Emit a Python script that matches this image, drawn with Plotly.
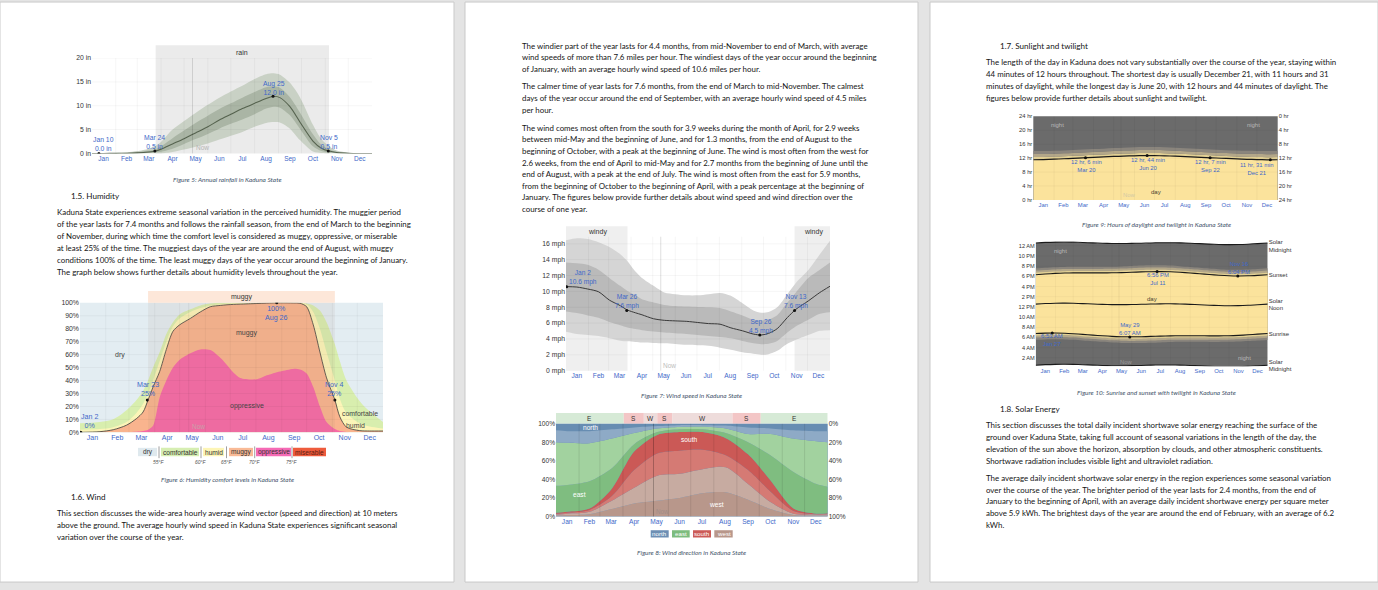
import plotly.graph_objects as go

W, H = 1378, 590
BODY = "Lato"
CH = "Liberation Sans"
BLUE = "#3e68c9"
TXT = "#333333"

MONTHS = ["Jan", "Feb", "Mar", "Apr", "May", "Jun", "Jul", "Aug", "Sep", "Oct", "Nov", "Dec"]
MONTH_MID = [15, 45, 74, 105, 135, 166, 196, 227, 258, 288, 319, 349]
MONTH_START = [31, 59, 90, 120, 151, 181, 212, 243, 273, 304, 334]
NOW_DAY = 131

# ---------------- Figure 5: rainfall (31-day sliding, inches) ----------------
RAIN_DAY = [0, 15, 31, 46, 59, 74, 83, 90, 105, 120, 135, 151, 166, 181, 196, 212, 227, 237, 245, 258, 271, 288, 299, 309, 319, 334, 349, 365]
RAIN_MEAN = [0, 0, 0.02, 0.05, 0.12, 0.3, 0.5, 0.9, 2.0, 3.1, 4.3, 5.6, 7.0, 8.2, 9.4, 10.5, 11.5, 12.0, 11.7, 9.8, 6.6, 2.6, 1.1, 0.5, 0.2, 0.05, 0, 0]
RAIN_P90 = [0, 0, 0.1, 0.25, 0.5, 1.0, 1.6, 2.4, 5.0, 6.8, 8.5, 10.2, 11.7, 13.0, 14.2, 15.6, 16.6, 16.8, 16.5, 14.8, 11.8, 6.0, 3.0, 1.5, 0.6, 0.15, 0, 0]
RAIN_P75 = [0, 0, 0.05, 0.1, 0.3, 0.6, 0.9, 1.5, 3.2, 4.8, 6.4, 7.9, 9.3, 10.5, 11.7, 12.9, 13.9, 14.1, 13.8, 11.8, 8.6, 4.0, 1.8, 0.9, 0.35, 0.1, 0, 0]
RAIN_P25 = [0, 0, 0, 0, 0.02, 0.1, 0.2, 0.35, 1.0, 2.0, 3.0, 4.1, 5.2, 6.2, 7.1, 8.2, 9.4, 9.8, 9.6, 8.0, 5.2, 1.5, 0.5, 0.2, 0.05, 0, 0, 0]
RAIN_P10 = [0, 0, 0, 0, 0, 0, 0, 0, 0.3, 0.8, 1.4, 2.1, 2.9, 3.7, 4.5, 5.6, 6.4, 6.6, 6.5, 5.2, 2.8, 0.4, 0.1, 0, 0, 0, 0, 0]
RAIN_MARK_DAY = [9, 82, 236, 308]
RAIN_MARK_VAL = [0.0, 0.5, 12.0, 0.5]
RAIN_MARK_TEXT = ["Jan 10<br>0.0 in", "Mar 24<br>0.5 in", "Aug 25<br>12.0 in", "Nov 5<br>0.5 in"]
RAIN_MARK_LABEL_POS = [(15.6, 1.96), (82, 2.47), (237, 13.8), (309, 2.47)]
RAIN_TICKS = [0, 5, 10, 15, 20]
RAIN_SEASON = [83, 309]

# ---------------- Figure 6: humidity comfort levels (cumulative %) ----------------
HUM_DAY = [0, 24, 40, 56, 68, 76, 82, 88, 96, 104, 112, 120, 133, 145, 157, 169, 177, 185, 193, 213, 225, 241, 257, 265, 273, 281, 289, 297, 307, 313, 321, 337, 349, 365]
HUM_OPPRESSIVE = [0, 0, 0, 0.2, 0.5, 1, 2, 5, 27, 40, 50, 56, 61, 64, 63.5, 57.5, 52, 46, 42, 41, 44, 47, 49, 48.5, 45.5, 35, 20, 8, 2.5, 1, 0.3, 0, 0, 0]
HUM_MUGGY = [0, 0.5, 2, 5.5, 10.6, 15.7, 25, 35, 47, 64, 78, 83, 88, 93, 97, 98, 98.5, 98.8, 99, 99.5, 99.8, 100, 99.9, 99.7, 97, 83, 62, 42, 25, 12, 4, 1.3, 1, 1]
HUM_HUMID = [2, 2.5, 4, 8, 15, 22, 30, 40, 55, 70, 82, 88, 93, 96, 98, 99, 99.3, 99.5, 99.6, 99.8, 99.9, 100, 100, 99.8, 99, 93, 80, 62, 40, 26, 15, 7, 4.5, 3]
HUM_COMFORTABLE = [7, 8, 10, 17, 25, 32, 40, 50, 62, 76, 85, 91, 95, 98, 99.5, 100, 100, 100, 100, 100, 100, 100, 100, 100, 99.5, 98, 94, 85, 68, 55, 40, 24, 16, 8]
HUM_MARK_DAY = [1, 81, 237, 307]
HUM_MARK_VAL = [0, 25, 100, 25]
HUM_MARK_TEXT = ["Jan 2<br>0%", "Mar 23<br>25%", "100%<br>Aug 26", "Nov 4<br>25%"]
HUM_MARK_LABEL_POS = [(12, 8.5), (82, 32.8), (237, 91.8), (307, 32.8)]
HUM_TICKS = [0, 10, 20, 30, 40, 50, 60, 70, 80, 90, 100]
MUGGY_SEASON = [82, 307]
HUM_LEGEND_LABELS = ["dry", "comfortable", "humid", "muggy", "oppressive", "miserable"]
HUM_LEGEND_COLORS = ["#dfe9ee", "#d6eeb2", "#fdf5b6", "#f9ba96", "#f56ab5", "#ee5b3c"]
DEW_LABELS = ["55°F", "60°F", "65°F", "70°F", "75°F"]

# ---------------- Figure 7: wind speed (mph) ----------------
WIND_DAY = [0, 15, 30, 45, 60, 75, 85, 96, 105, 121, 136, 151, 167, 182, 197, 213, 228, 244, 259, 270, 280, 292, 306, 318, 335, 351, 365]
WIND_MEAN = [10.6, 10.55, 10.3, 9.95, 8.9, 8.2, 7.65, 7.3, 7.05, 6.55, 6.35, 6.28, 6.22, 6.08, 5.94, 5.86, 5.4, 5.03, 4.62, 4.5, 4.7, 5.3, 6.7, 7.75, 8.8, 9.86, 10.65]
WIND_P90 = [16.45, 16.7, 16.6, 16.2, 15.6, 14.7, 13.8, 12.5, 11.7, 10.7, 9.86, 9.65, 9.5, 9.5, 9.65, 9.8, 9.44, 8.5, 7.6, 7.3, 7.4, 8.0, 9.65, 11.1, 12.7, 14.7, 16.4]
WIND_P75 = [13.65, 13.56, 13.36, 12.74, 11.7, 10.7, 10.06, 9.5, 9.0, 8.6, 8.29, 8.15, 8.08, 8.03, 8.0, 7.9, 7.46, 6.97, 6.43, 6.35, 6.45, 7.0, 8.6, 9.9, 11.7, 12.74, 13.65]
WIND_P25 = [7.46, 7.26, 6.97, 6.68, 6.14, 5.73, 5.45, 5.25, 5.11, 4.95, 4.82, 4.72, 4.62, 4.5, 4.37, 4.25, 4.08, 3.75, 3.46, 3.34, 3.4, 3.75, 4.8, 5.6, 6.43, 7.18, 7.38]
WIND_P10 = [4.9, 4.62, 4.5, 4.37, 4.1, 3.79, 3.7, 3.62, 3.55, 3.5, 3.46, 3.36, 3.26, 3.2, 3.13, 2.9, 2.64, 2.31, 2.14, 2.02, 2.08, 2.5, 3.4, 3.9, 4.5, 5.03, 5.11]
WIND_MARK_DAY = [1, 84, 268, 316]
WIND_MARK_VAL = [10.6, 7.6, 4.5, 7.6]
WIND_MARK_TEXT = ["Jan 2<br>10.6 mph", "Mar 26<br>7.6 mph", "Sep 26<br>4.5 mph", "Nov 13<br>7.6 mph"]
WIND_MARK_LABEL_POS = [(23, 11.8), (85, 8.73), (270, 5.59), (318, 8.73)]
WIND_TICKS = [0, 2, 4, 6, 8, 10, 12, 14, 16]
WINDY_SEASONS = [(0, 85), (316, 365)]

# ---------------- Figure 8: wind direction (cumulative %) ----------------
DIR_DAY = [0, 15, 45, 75, 105, 136, 166, 197, 228, 258, 288, 319, 350, 365]
DIR_WEST_CORE = [1, 1.5, 2.5, 8, 14, 17, 20, 25, 26, 18, 8, 1.5, 1, 1]
DIR_WEST = [2, 3, 5, 17, 31, 44, 46, 51, 53, 35, 15.5, 3, 2, 2]
DIR_SOUTH_MID = [3, 4, 7, 22, 50, 68, 71, 72, 66, 50, 27, 6, 2.5, 3]
DIR_SOUTH = [4, 5, 8.5, 30, 70, 88, 91, 91, 84.5, 67, 39, 8.5, 3, 3.5]
DIR_EAST_MID = [33, 34, 38, 52, 78, 91, 94, 94, 90, 80, 66, 48, 35, 32]
DIR_EAST = [80, 79.5, 79, 84, 90, 95, 96.5, 97, 95, 89, 89, 84, 81, 80]
DIR_NORTH_MID = [93, 92, 92, 94, 96, 97.5, 98.5, 98.5, 98, 96, 95, 93, 92, 92]
DIR_TICKS = [0, 20, 40, 60, 80, 100]
DIR_SEG_START = [0, 91, 118, 136, 156, 237, 275]
DIR_SEG_END = [91, 118, 136, 156, 237, 275, 365]
DIR_SEG_LABEL = ["E", "S", "W", "S", "W", "S", "E"]
DIR_LEGEND = ["north", "east", "south", "west"]

# ---------------- Figures 9 & 10: daylight / sunrise-sunset ----------------
SUN_DAY = [0, 15, 31, 46, 59, 74, 90, 105, 120, 135, 151, 166, 181, 196, 212, 227, 243, 258, 273, 288, 304, 319, 334, 349, 365]
DAY_LENGTH = [11.54, 11.60, 11.70, 11.82, 11.94, 12.07, 12.22, 12.35, 12.48, 12.58, 12.67, 12.72, 12.71, 12.66, 12.57, 12.45, 12.31, 12.17, 12.04, 11.91, 11.77, 11.66, 11.58, 11.53, 11.54]
CIVIL_TW = [0.76, 0.75, 0.74, 0.73, 0.72, 0.72, 0.72, 0.72, 0.73, 0.74, 0.75, 0.76, 0.76, 0.75, 0.74, 0.73, 0.72, 0.72, 0.72, 0.72, 0.73, 0.74, 0.75, 0.76, 0.76]
NAUTICAL_TW = [0.86, 0.85, 0.84, 0.83, 0.82, 0.82, 0.82, 0.82, 0.83, 0.84, 0.85, 0.86, 0.86, 0.85, 0.84, 0.83, 0.82, 0.82, 0.82, 0.82, 0.83, 0.84, 0.85, 0.86, 0.86]
ASTRO_TW = [0.88, 0.87, 0.86, 0.85, 0.84, 0.84, 0.84, 0.84, 0.85, 0.86, 0.87, 0.88, 0.88, 0.87, 0.86, 0.85, 0.84, 0.84, 0.84, 0.84, 0.85, 0.86, 0.87, 0.88, 0.88]
SUNRISE = [6.787, 6.862, 6.878, 6.830, 6.742, 6.617, 6.462, 6.328, 6.215, 6.152, 6.132, 6.150, 6.208, 6.272, 6.323, 6.352, 6.348, 6.337, 6.315, 6.312, 6.345, 6.418, 6.527, 6.665, 6.778]
SUNSET = [18.327, 18.462, 18.578, 18.650, 18.682, 18.687, 18.682, 18.678, 18.695, 18.732, 18.802, 18.870, 18.918, 18.932, 18.893, 18.802, 18.658, 18.507, 18.355, 18.222, 18.115, 18.078, 18.107, 18.195, 18.318]
SOLAR_NOON = [12.557, 12.662, 12.728, 12.740, 12.712, 12.652, 12.572, 12.503, 12.455, 12.442, 12.467, 12.510, 12.563, 12.602, 12.608, 12.577, 12.503, 12.422, 12.335, 12.267, 12.230, 12.248, 12.317, 12.430, 12.548]
DL_TICKS = [0, 4, 8, 12, 16, 20, 24]
DL_MARK_DAY = [78, 170, 264, 354]
DL_MARK_VAL = [12.10, 12.73, 12.12, 11.52]
DL_MARK_TEXT = ["12 hr, 6 min<br>Mar 20", "12 hr, 44 min<br>Jun 20", "12 hr, 7 min<br>Sep 22", "11 hr, 31 min<br>Dec 21"]
DL_MARK_LABEL_POS = [(79, 9.68), (172, 10.45), (265, 9.68), (334, 8.98)]
SS_MARK_DAY = [26, 148, 191, 318]
SS_MARK_VAL = [6.883, 6.117, 18.933, 18.07]
SS_MARK_TEXT = ["6:53 AM<br>Jan 27", "May 29<br>6:07 AM", "6:56 PM<br>Jul 11", "Nov 16<br>6:04 PM"]
SS_MARK_LABEL_POS = [(26, 5.42), (149, 7.66), (192, 17.43), (320, 19.7)]
SS_TICKS = [2, 4, 6, 8, 10, 12, 14, 16, 18, 20, 22, 24]
SS_TICKTEXT = ["2 AM", "4 AM", "6 AM", "8 AM", "10 AM", "12 PM", "2 PM", "4 PM", "6 PM", "8 PM", "10 PM", "12 AM"]
SS_RIGHT_VALS = [0.5, 6.8, 12.5, 18.34, 24.05]
SS_RIGHT_TEXT = ["Solar<br>Midnight", "Sunrise", "Solar<br>Noon", "Sunset", "Solar<br>Midnight"]

# ---------------- Document text ----------------
P1_HEAD1 = "1.5. Humidity"
P1_PARA1 = [
    "Kaduna State experiences extreme seasonal variation in the perceived humidity. The muggier period",
    "of the year lasts for 7.4 months and follows the rainfall season, from the end of March to the beginning",
    "of November, during which time the comfort level is considered as muggy, oppressive, or miserable",
    "at least 25% of the time. The muggiest days of the year are around the end of August, with muggy",
    "conditions 100% of the time. The least muggy days of the year occur around the beginning of January.",
    "The graph below shows further details about humidity levels throughout the year.",
]
P1_HEAD2 = "1.6. Wind"
P1_PARA2 = [
    "This section discusses the wide-area hourly average wind vector (speed and direction) at 10 meters",
    "above the ground. The average hourly wind speed in Kaduna State experiences significant seasonal",
    "variation over the course of the year.",
]
P2_PARA1 = [
    "The windier part of the year lasts for 4.4 months, from mid-November to end of March, with average",
    "wind speeds of more than 7.6 miles per hour. The windiest days of the year occur around the beginning",
    "of January, with an average hourly wind speed of 10.6 miles per hour.",
]
P2_PARA2 = [
    "The calmer time of year lasts for 7.6 months, from the end of March to mid-November. The calmest",
    "days of the year occur around the end of September, with an average hourly wind speed of 4.5 miles",
    "per hour.",
]
P2_PARA3 = [
    "The wind comes most often from the south for 3.9 weeks during the month of April, for 2.9 weeks",
    "between mid-May and the beginning of June, and for 1.3 months, from the end of August to the",
    "beginning of October, with a peak at the beginning of June. The wind is most often from the west for",
    "2.6 weeks, from the end of April to mid-May and for 2.7 months from the beginning of June until the",
    "end of August, with a peak at the end of July. The wind is most often from the east for 5.9 months,",
    "from the beginning of October to the beginning of April, with a peak percentage at the beginning of",
    "January. The figures below provide further details about wind speed and wind direction over the",
    "course of one year.",
]
P3_HEAD1 = "1.7. Sunlight and twilight"
P3_PARA1 = [
    "The length of the day in Kaduna does not vary substantially over the course of the year, staying within",
    "44 minutes of 12 hours throughout. The shortest day is usually December 21, with 11 hours and 31",
    "minutes of daylight, while the longest day is June 20, with 12 hours and 44 minutes of daylight. The",
    "figures below provide further details about sunlight and twilight.",
]
P3_HEAD2 = "1.8. Solar Energy"
P3_PARA2 = [
    "This section discusses the total daily incident shortwave solar energy reaching the surface of the",
    "ground over Kaduna State, taking full account of seasonal variations in the length of the day, the",
    "elevation of the sun above the horizon, absorption by clouds, and other atmospheric constituents.",
    "Shortwave radiation includes visible light and ultraviolet radiation.",
]
P3_PARA3 = [
    "The average daily incident shortwave solar energy in the region experiences some seasonal variation",
    "over the course of the year. The brighter period of the year lasts for 2.4 months, from the end of",
    "January to the beginning of April, with an average daily incident shortwave energy per square meter",
    "above 5.9 kWh. The brightest days of the year are around the end of February, with an average of 6.2",
    "kWh.",
]
CAPTIONS = [
    "Figure 5: Annual rainfall in Kaduna State",
    "Figure 6: Humidity comfort levels in Kaduna State",
    "Figure 7: Wind speed in Kaduna State",
    "Figure 8: Wind direction in Kaduna State",
    "Figure 9: Hours of daylight and twilight in Kaduna State",
    "Figure 10: Sunrise and sunset with twilight in Kaduna State",
]


def px(x):
    return x / W


def py(y):
    return 1 - y / H


fig = go.Figure()
shapes = []
ann = []


def note(x, y, s, size=7.9, color="#151515", family=BODY, xanchor="left", xref="paper", yref="paper", yanchor="middle"):
    if xref == "paper":
        x = px(x)
    if yref == "paper":
        y = py(y)
    ann.append(dict(x=x, y=y, text=s, xref=xref, yref=yref, showarrow=False, xanchor=xanchor,
                    yanchor=yanchor, align="center", font=dict(size=size, color=color, family=family)))


def para(lines, x, y0, step, size=7.9):
    for i, ln in enumerate(lines):
        note(x, y0 + i * step, ln, size=size)


def line_tr(x, y, xa, ya, color="rgba(0,0,0,0)", width=0, fill=None, fillcolor=None):
    fig.add_trace(go.Scatter(x=x, y=y, xaxis=xa, yaxis=ya, mode="lines",
                             line=dict(color=color, width=width, shape="spline", smoothing=0.8),
                             fill=fill, fillcolor=fillcolor, hoverinfo="skip", showlegend=False))


def marks(x, y, xa, ya):
    fig.add_trace(go.Scatter(x=x, y=y, xaxis=xa, yaxis=ya, mode="markers",
                             marker=dict(color="#111", size=3), hoverinfo="skip", showlegend=False))


def grid(xa, ya, xvals, yvals, color="rgba(0,0,0,0.08)", width=0.6):
    for v in xvals:
        shapes.append(dict(type="line", xref=xa, yref=ya + " domain", x0=v, x1=v, y0=0, y1=1,
                           line=dict(color=color, width=width), layer="above"))
    for v in yvals:
        shapes.append(dict(type="line", xref=xa + " domain", yref=ya, x0=0, x1=1, y0=v, y1=v,
                           line=dict(color=color, width=width), layer="above"))


def now_line(xa, ya, color="rgba(0,0,0,0.16)"):
    shapes.append(dict(type="line", xref=xa, yref=ya + " domain", x0=NOW_DAY, x1=NOW_DAY, y0=0, y1=1,
                       line=dict(color=color, width=0.8), layer="above"))


# ---- pages ----
for (x0, x1) in [(0, 454), (465, 918), (930, 1378)]:
    shapes.append(dict(type="rect", xref="paper", yref="paper", x0=px(x0), x1=px(x1), y0=py(588), y1=py(-2),
                       fillcolor="white", line=dict(color="#c9c9c9", width=1), layer="below"))

# ================= Figure 5 rainfall =================
shapes.append(dict(type="rect", xref="x", yref="paper", x0=RAIN_SEASON[0], x1=RAIN_SEASON[1],
                   y0=py(152), y1=py(42), fillcolor="#ebebeb", line=dict(width=0), layer="below"))
note(242, 49, "rain", size=7, color=TXT, family=CH, xanchor="center")
line_tr(RAIN_DAY, RAIN_P10, "x", "y")
line_tr(RAIN_DAY, RAIN_P90, "x", "y", fill="tonexty", fillcolor="#c9d1c5")
line_tr(RAIN_DAY, RAIN_P25, "x", "y")
line_tr(RAIN_DAY, RAIN_P75, "x", "y", fill="tonexty", fillcolor="#aab5a5")
line_tr(RAIN_DAY, RAIN_MEAN, "x", "y", color="#56634f", width=1.1)
marks(RAIN_MARK_DAY, RAIN_MARK_VAL, "x", "y")
for (lx, ly), t in zip(RAIN_MARK_LABEL_POS, RAIN_MARK_TEXT):
    note(lx, ly, t, size=6.8, color=BLUE, family=CH, xanchor="center", xref="x", yref="y")
grid("x", "y", MONTH_START, [5, 10, 15, 20], color="rgba(0,0,0,0.07)")
now_line("x", "y")
note(NOW_DAY + 13, 1.24, "Now", size=6.5, color="#b5b5b5", family=CH, xanchor="center", xref="x", yref="y")

# ================= Figure 6 humidity =================
shapes.append(dict(type="rect", xref="x2 domain", yref="y2 domain", x0=0, x1=1, y0=0, y1=1,
                   fillcolor="#e3edf2", line=dict(width=0), layer="below"))
shapes.append(dict(type="rect", xref="x2", yref="paper", x0=MUGGY_SEASON[0], x1=MUGGY_SEASON[1],
                   y0=py(304), y1=py(292), fillcolor="#fde7d9", line=dict(width=0), layer="below"))
line_tr(HUM_DAY, HUM_COMFORTABLE, "x2", "y2", fill="tozeroy", fillcolor="#d8eeae")
line_tr(HUM_DAY, HUM_HUMID, "x2", "y2", fill="tozeroy", fillcolor="#fcf5b8")
line_tr(HUM_DAY, HUM_MUGGY, "x2", "y2", fill="tozeroy", fillcolor="#f9b48e")
line_tr(HUM_DAY, HUM_OPPRESSIVE, "x2", "y2", fill="tozeroy", fillcolor="#f768a6")
line_tr(HUM_DAY, HUM_MUGGY, "x2", "y2", color="#3a3a3a", width=0.8)
marks(HUM_MARK_DAY, HUM_MARK_VAL, "x2", "y2")
shapes.append(dict(type="rect", xref="x2", yref="y2 domain", x0=MUGGY_SEASON[0], x1=MUGGY_SEASON[1],
                   y0=0, y1=1, fillcolor="rgba(170,140,120,0.10)", line=dict(width=0), layer="above"))
grid("x2", "y2", MONTH_START, [10, 20, 30, 40, 50, 60, 70, 80, 90], color="rgba(0,0,0,0.07)")
now_line("x2", "y2", color="rgba(0,0,0,0.08)")
for (lx, ly), t in zip(HUM_MARK_LABEL_POS, HUM_MARK_TEXT):
    note(lx, ly, t, size=7.1, color=BLUE, family=CH, xanchor="center", xref="x2", yref="y2")
note(242, 298.5, "muggy", size=7, color=TXT, family=CH, xanchor="center")
note(48, 60, "dry", size=7, color="#444", family=CH, xanchor="center", xref="x2", yref="y2")
note(201, 76.5, "muggy", size=7, color="#444", family=CH, xanchor="center", xref="x2", yref="y2")
note(201, 20.3, "oppressive", size=7, color="#444", family=CH, xanchor="center", xref="x2", yref="y2")
note(337, 14.4, "comfortable", size=6.9, color="#444", family=CH, xanchor="center", xref="x2", yref="y2")
note(332, 5.1, "humid", size=6.9, color="#444", family=CH, xanchor="center", xref="x2", yref="y2")
note(NOW_DAY + 12, 4.6, "Now", size=6.5, color="#c9a0a8", family=CH, xanchor="center", xref="x2", yref="y2")
# legend row
leg_x0 = [138, 161, 203, 229, 256, 293]
leg_x1 = [157, 199, 224, 253, 291, 326]
for lab, col, a, b in zip(HUM_LEGEND_LABELS, HUM_LEGEND_COLORS, leg_x0, leg_x1):
    shapes.append(dict(type="rect", xref="paper", yref="paper", x0=px(a), x1=px(b), y0=py(460), y1=py(451.5),
                       fillcolor=col, line=dict(width=0), layer="above"))
    note((a + b) / 2, 455.8, lab, size=6.6, color="#333" if lab != "miserable" else "#5a1a10", family=CH, xanchor="center")
for sx, dl in zip([159, 201, 226.5, 254.7, 292], DEW_LABELS):
    shapes.append(dict(type="line", xref="paper", yref="paper", x0=px(sx), x1=px(sx), y0=py(462), y1=py(450),
                       line=dict(color="#777", width=0.7), layer="above"))
    note(sx, 465.5, "<i>" + dl + "</i>", size=5, color="#555", family=CH, xanchor="center")

# ================= Figure 7 wind speed =================
for a, b in WINDY_SEASONS:
    shapes.append(dict(type="rect", xref="x3", yref="paper", x0=a, x1=b, y0=py(373), y1=py(226),
                       fillcolor="#efefef", line=dict(width=0), layer="below"))
note(597, 232.3, "windy", size=7, color=TXT, family=CH, xanchor="center")
note(813.7, 232.3, "windy", size=7, color=TXT, family=CH, xanchor="center")
line_tr(WIND_DAY, WIND_P10, "x3", "y3")
line_tr(WIND_DAY, WIND_P90, "x3", "y3", fill="tonexty", fillcolor="#d5d5d5")
line_tr(WIND_DAY, WIND_P25, "x3", "y3")
line_tr(WIND_DAY, WIND_P75, "x3", "y3", fill="tonexty", fillcolor="#bababa")
line_tr(WIND_DAY, WIND_MEAN, "x3", "y3", color="#3a3a3a", width=1.0)
marks(WIND_MARK_DAY, WIND_MARK_VAL, "x3", "y3")
for (lx, ly), t in zip(WIND_MARK_LABEL_POS, WIND_MARK_TEXT):
    note(lx, ly, t, size=6.6, color=BLUE, family=CH, xanchor="center", xref="x3", yref="y3")
grid("x3", "y3", MONTH_START, [2, 4, 6, 8, 10, 12, 14, 16], color="rgba(0,0,0,0.07)")
now_line("x3", "y3")
note(NOW_DAY + 12, 0.66, "Now", size=6.5, color="#bdbdbd", family=CH, xanchor="center", xref="x3", yref="y3")

# ================= Figure 8 wind direction =================
seg_cols = {"E": "#d6ead6", "S": "#f3c6c6", "W": "#eedcdb"}
for a, b, lab in zip(DIR_SEG_START, DIR_SEG_END, DIR_SEG_LABEL):
    shapes.append(dict(type="rect", xref="x4", yref="paper", x0=a, x1=b, y0=py(427), y1=py(416),
                       fillcolor=seg_cols[lab], line=dict(width=0), layer="below"))
    note((a + b) / 2, 421.7, lab, size=6.5, color=TXT, family=CH, xanchor="center", xref="x4")
shapes.append(dict(type="rect", xref="x4 domain", yref="y4 domain", x0=0, x1=1, y0=0, y1=1,
                   fillcolor="#678db2", line=dict(width=0), layer="below"))
line_tr(DIR_DAY, DIR_WEST_CORE, "x4", "y4", fill="tozeroy", fillcolor="#b8978b")
line_tr(DIR_DAY, DIR_WEST, "x4", "y4", fill="tonexty", fillcolor="#c7aba1")
line_tr(DIR_DAY, DIR_SOUTH_MID, "x4", "y4", fill="tonexty", fillcolor="#d57a74")
line_tr(DIR_DAY, DIR_SOUTH, "x4", "y4", fill="tonexty", fillcolor="#cb5956")
line_tr(DIR_DAY, DIR_EAST_MID, "x4", "y4", fill="tonexty", fillcolor="#7fbd80")
line_tr(DIR_DAY, DIR_EAST, "x4", "y4", fill="tonexty", fillcolor="#a2d29f")
line_tr(DIR_DAY, DIR_NORTH_MID, "x4", "y4", fill="tonexty", fillcolor="#8eaac6")
grid("x4", "y4", MONTH_START, [], color="rgba(0,0,0,0.16)")
now_line("x4", "y4", color="rgba(0,0,0,0.3)")
fig.add_trace(go.Scatter(x=[0], y=[0], xaxis="x4", yaxis="y7", mode="markers", marker=dict(opacity=0),
                         hoverinfo="skip", showlegend=False))
note(47, 95.8, "north", size=6.6, color="white", family=CH, xanchor="center", xref="x4", yref="y4")
note(178, 83, "south", size=6.6, color="white", family=CH, xanchor="center", xref="x4", yref="y4")
note(32, 23.6, "east", size=6.6, color="white", family=CH, xanchor="center", xref="x4", yref="y4")
note(215, 12.7, "west", size=6.6, color="white", family=CH, xanchor="center", xref="x4", yref="y4")
note(NOW_DAY + 12, 5.6, "Now", size=6.3, color="#a08d88", family=CH, xanchor="center", xref="x4", yref="y4")
dir_leg_cols = ["#6d8fb4", "#7dbc7e", "#cc5b58", "#b8978b"]
for lab, col, a, b in zip(DIR_LEGEND, dir_leg_cols, [650.7, 672, 693, 714.3], [668.7, 689.7, 711, 732.7]):
    shapes.append(dict(type="rect", xref="paper", yref="paper", x0=px(a), x1=px(b), y0=py(542.7), y1=py(535.3),
                       fillcolor=col, line=dict(width=0), layer="above"))
    note((a + b) / 2, 539, lab, size=6.2, color="white", family=CH, xanchor="center")

# ================= Figure 9 daylight =================
DAY_COL, T1, T2, T3, NIGHT = "#fbe39c", "#e3d194", "#b3a789", "#8a857d", "#6b6b6b"
shapes.append(dict(type="rect", xref="x5 domain", yref="y5 domain", x0=0, x1=1, y0=0, y1=1,
                   fillcolor=NIGHT, line=dict(width=0), layer="below"))
for vals, col in [(DAY_LENGTH, DAY_COL), (CIVIL_TW, T1), (NAUTICAL_TW, T2), (ASTRO_TW, T3)]:
    fig.add_trace(go.Scatter(x=SUN_DAY, y=vals, xaxis="x5", yaxis="y5", mode="lines", stackgroup="tw5",
                             line=dict(width=0, shape="spline"), fillcolor=col, hoverinfo="skip", showlegend=False))
line_tr(SUN_DAY, DAY_LENGTH, "x5", "y5", color="#1a1a1a", width=1.2)
marks(DL_MARK_DAY, DL_MARK_VAL, "x5", "y5")
fig.add_trace(go.Scatter(x=[0], y=[0], xaxis="x5", yaxis="y8", mode="markers", marker=dict(opacity=0),
                         hoverinfo="skip", showlegend=False))
grid("x5", "y5", MONTH_START, [4, 8, 12, 16, 20], color="rgba(0,0,0,0.07)")
now_line("x5", "y5", color="rgba(0,0,0,0.08)")
for (lx, ly), t in zip(DL_MARK_LABEL_POS, DL_MARK_TEXT):
    note(lx, ly, t, size=5.9, color=BLUE, family=CH, xanchor="center", xref="x5", yref="y5")
note(36, 21.46, "night", size=5.9, color="#b9b9b9", family=CH, xanchor="center", xref="x5", yref="y5")
note(329, 21.46, "night", size=5.9, color="#b9b9b9", family=CH, xanchor="center", xref="x5", yref="y5")
note(183, 2.15, "day", size=6, color="#4a4030", family=CH, xanchor="center", xref="x5", yref="y5")
note(NOW_DAY + 12, 1.41, "Now", size=5.9, color="#d3c9a5", family=CH, xanchor="center", xref="x5", yref="y5")

# ================= Figure 10 sunrise / sunset =================
mid_low = [n - 12 for n in SOLAR_NOON]
mid_high = [n + 12 for n in SOLAR_NOON]
line_tr(SUN_DAY, mid_low, "x6", "y6")
line_tr(SUN_DAY, mid_high, "x6", "y6", fill="tonexty", fillcolor=NIGHT)
tw_total = [(c + n + a) / 2 for c, n, a in zip(CIVIL_TW, NAUTICAL_TW, ASTRO_TW)]
tw_naut = [(c + n) / 2 for c, n in zip(CIVIL_TW, NAUTICAL_TW)]
tw_civ = [c / 2 for c in CIVIL_TW]
for off, col in [(tw_total, T3), (tw_naut, T2), (tw_civ, T1)]:
    line_tr(SUN_DAY, [r - o for r, o in zip(SUNRISE, off)], "x6", "y6")
    line_tr(SUN_DAY, [s + o for s, o in zip(SUNSET, off)], "x6", "y6", fill="tonexty", fillcolor=col)
line_tr(SUN_DAY, SUNRISE, "x6", "y6")
line_tr(SUN_DAY, SUNSET, "x6", "y6", fill="tonexty", fillcolor=DAY_COL)
for series in (mid_low, mid_high, SUNRISE, SUNSET, SOLAR_NOON):
    line_tr(SUN_DAY, series, "x6", "y6", color="#1a1a1a", width=1.1)
marks(SS_MARK_DAY, SS_MARK_VAL, "x6", "y6")
fig.add_trace(go.Scatter(x=[0], y=[12], xaxis="x6", yaxis="y9", mode="markers", marker=dict(opacity=0),
                         hoverinfo="skip", showlegend=False))
grid("x6", "y6", MONTH_START, SS_TICKS, color="rgba(0,0,0,0.06)")
now_line("x6", "y6", color="rgba(0,0,0,0.08)")
for (lx, ly), t in zip(SS_MARK_LABEL_POS, SS_MARK_TEXT):
    note(lx, ly, t, size=5.9, color=BLUE, family=CH, xanchor="center", xref="x6", yref="y6")
note(39, 22.9, "night", size=5.9, color="#b9b9b9", family=CH, xanchor="center", xref="x6", yref="y6")
note(329, 2.06, "night", size=5.9, color="#b9b9b9", family=CH, xanchor="center", xref="x6", yref="y6")
note(182.5, 13.64, "day", size=6, color="#4a4030", family=CH, xanchor="center", xref="x6", yref="y6")
note(NOW_DAY + 12, 1.17, "Now", size=5.9, color="#9a9a9a", family=CH, xanchor="center", xref="x6", yref="y6")

# ================= document text =================
note(69, 195, P1_HEAD1, size=8.1)
para(P1_PARA1, 55, 211.7, 12.25)
note(69, 502, P1_HEAD2, size=8.1)
para(P1_PARA2, 55, 517.3, 12.2)
para(P2_PARA1, 519.7, 42.7, 11.7)
para(P2_PARA2, 519.7, 83.6, 12.3)
para(P2_PARA3, 519.7, 126, 11.76)
note(998, 42.7, P3_HEAD1, size=8.1)
para(P3_PARA1, 984.3, 59.3, 12.1)
note(998, 412.3, P3_HEAD2, size=8.1)
para(P3_PARA2, 984.3, 428.7, 11.9)
para(P3_PARA3, 984.3, 482, 12.0)
for (cx, cy), cap in zip([(227, 179), (227, 484), (691, 398), (691, 558), (1156, 224), (1156, 395.5)], CAPTIONS):
    note(cx, cy, "<i>" + cap + "</i>", size=6.5, color="#44546a", xanchor="center")


# ================= axes =================
def xax(x0, x1, anchor, size):
    return dict(domain=[px(x0), px(x1)], anchor=anchor, range=[0, 365], tickvals=MONTH_MID, ticktext=MONTHS,
                showgrid=False, zeroline=False, ticks="", showline=False, fixedrange=True,
                tickfont=dict(family=CH, size=size, color=BLUE))


def yax(y_bottom, y_top, anchor, rng, tickvals, ticktext, size, side="left"):
    return dict(domain=[py(y_bottom), py(y_top)], anchor=anchor, range=rng, tickvals=tickvals,
                ticktext=ticktext, showgrid=False, zeroline=False, ticks="", showline=False,
                fixedrange=True, side=side, tickfont=dict(family=CH, size=size, color=TXT))


def labels(vals, suffix):
    return [f"{v}{suffix}" for v in vals]


layout = dict(
    width=W, height=H, margin=dict(l=0, r=0, t=0, b=0), paper_bgcolor="#e4e4e4",
    plot_bgcolor="rgba(0,0,0,0)", showlegend=False, hovermode=False,
    xaxis=xax(92, 372, "y", 6.5),
    yaxis=yax(152, 55, "x", [0, 20], RAIN_TICKS, labels(RAIN_TICKS, " in"), 6.8),
    xaxis2=xax(80, 383, "y2", 7),
    yaxis2=yax(435.7, 304, "x2", [0, 100], HUM_TICKS, labels(HUM_TICKS, "%"), 6.9),
    xaxis3=xax(566, 830, "y3", 6.6),
    yaxis3=yax(373, 236.7, "x3", [0, 16.9], WIND_TICKS, labels(WIND_TICKS, " mph"), 6.8),
    xaxis4=xax(556, 827.7, "y4", 6.6),
    yaxis4=yax(521.3, 427, "x4", [0, 100], DIR_TICKS, labels(DIR_TICKS, "%"), 6.6),
    xaxis5=xax(1033.3, 1277.7, "y5", 5.9),
    yaxis5=yax(199.3, 114.3, "x5", [0, 24], DL_TICKS, labels(DL_TICKS, " hr"), 5.8),
    xaxis6=xax(1035.7, 1267.7, "y6", 5.9),
    yaxis6=yax(368.5, 241.3, "x6", [0.35, 24.9], SS_TICKS, SS_TICKTEXT, 5.6),
)
y7 = yax(521.3, 427, "x4", [100, 0], DIR_TICKS, labels(DIR_TICKS, "%"), 6.6, side="right")
y7["overlaying"] = "y4"
y8 = yax(199.3, 114.3, "x5", [24, 0], DL_TICKS, labels(DL_TICKS, " hr"), 5.8, side="right")
y8["overlaying"] = "y5"
y9 = yax(368.5, 241.3, "x6", [0.35, 24.9], SS_RIGHT_VALS, SS_RIGHT_TEXT, 6, side="right")
y9["overlaying"] = "y6"
layout["yaxis7"] = y7
layout["yaxis8"] = y8
layout["yaxis9"] = y9
layout["shapes"] = shapes
layout["annotations"] = ann
fig.update_layout(**layout)

fig.write_html("out.html", config={"displayModeBar": False},
               post_script="document.body.style.margin='0';document.body.style.padding='0';document.body.style.overflow='hidden';")
